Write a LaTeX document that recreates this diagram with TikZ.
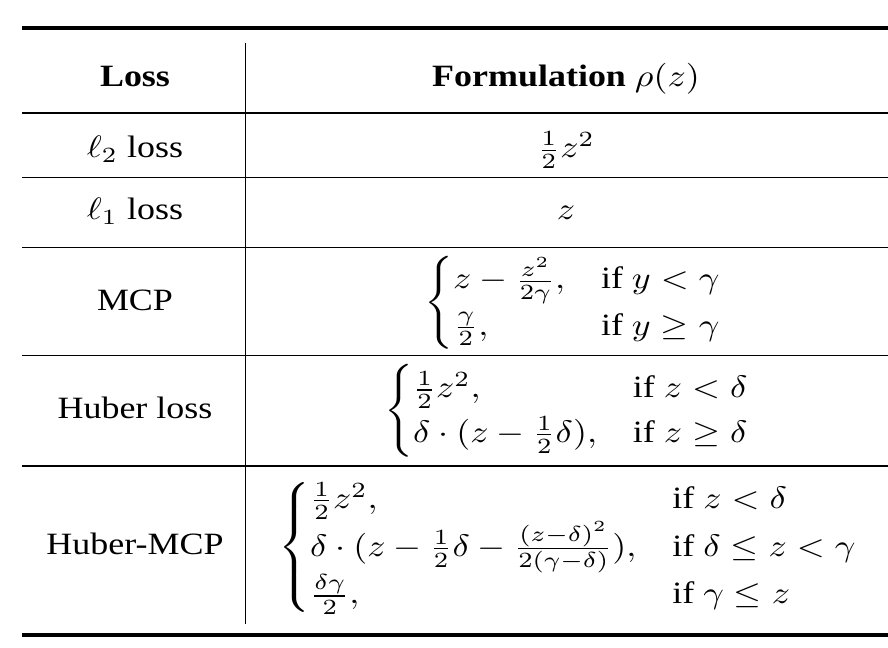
\documentclass[tikz,border=0pt]{standalone}
\usepackage{amsmath}
\usepackage[no-math]{fontspec}
\setmainfont{Liberation Serif}
\usepackage{graphicx}
\newcommand\wide[1]{\scalebox{1.16}[1]{#1}}
\begin{document}
\begin{tikzpicture}[x=0.3226pt,y=-0.3226pt,
  heavy/.style={line width=1.3pt},
  light/.style={line width=0.5pt},
  vrule/.style={line width=0.42pt},
  cell/.style={anchor=base, inner sep=0pt}]
\useasboundingbox (0,0) rectangle (888,648);
% rules
\coordinate (r0l) at (22,28);    \coordinate (r0r) at (888,28);
\coordinate (r1l) at (22,113);   \coordinate (r1r) at (888,113);
\coordinate (r2l) at (22,177.5); \coordinate (r2r) at (888,177.5);
\coordinate (r3l) at (22,247.5); \coordinate (r3r) at (888,247.5);
\coordinate (r4l) at (22,355.5); \coordinate (r4r) at (888,355.5);
\coordinate (r5l) at (22,466);   \coordinate (r5r) at (888,466);
\coordinate (r6l) at (22,635);   \coordinate (r6r) at (888,635);
\coordinate (vt) at (245.7,43);  \coordinate (vb) at (245.7,624);
\draw[heavy] (r0l) -- (r0r);
\draw[light] (r1l) -- (r1r);
\draw[light] (r2l) -- (r2r);
\draw[light] (r3l) -- (r3r);
\draw[light] (r4l) -- (r4r);
\draw[light] (r5l) -- (r5r);
\draw[heavy] (r6l) -- (r6r);
\draw[vrule] (vt) -- (vb);
% header
\node[cell] (h1) at (135,86.7) {\wide{\textbf{Loss}}};
\node[cell] (h2) at (566,86.7) {\wide{\textbf{Formulation} $\rho(z)$}};
% rows
\node[cell] (a1) at (135,158) {\wide{$\ell_2$ loss}};
\node[cell] (b1) at (566,158) {\wide{$\frac{1}{2}z^2$}};
\node[cell] (a2) at (135,220) {\wide{$\ell_1$ loss}};
\node[cell] (b2) at (566,220) {\wide{$z$}};
\node[cell] (a3) at (135,310.7) {\wide{MCP}};
\node[cell] (b3) at (574,310.7) {\wide{$\begin{cases}
  z-\frac{z^2}{2\gamma}, & \text{if } y<\gamma\\
  \frac{\gamma}{2}, & \text{if } y\geq\gamma
\end{cases}$}};
\node[cell] (a4) at (135,419) {\wide{Huber loss}};
\node[cell] (b4) at (568,419) {\wide{$\begin{cases}
  \frac{1}{2}z^2, & \text{if } z<\delta\\
  \delta\cdot(z-\frac{1}{2}\delta), & \text{if } z\geq\delta
\end{cases}$}};
\node[cell] (a5) at (135,555) {\wide{Huber-MCP}};
\node[cell] (b5) at (569,555) {\wide{$\begin{cases}
  \frac{1}{2}z^2, & \text{if } z<\delta\\
  \delta\cdot(z-\frac{1}{2}\delta-\frac{(z-\delta)^2}{2(\gamma-\delta)}), & \text{if } \delta\leq z<\gamma\\
  \frac{\delta\gamma}{2}, & \text{if } \gamma\leq z
\end{cases}$}};
\end{tikzpicture}
\end{document}
